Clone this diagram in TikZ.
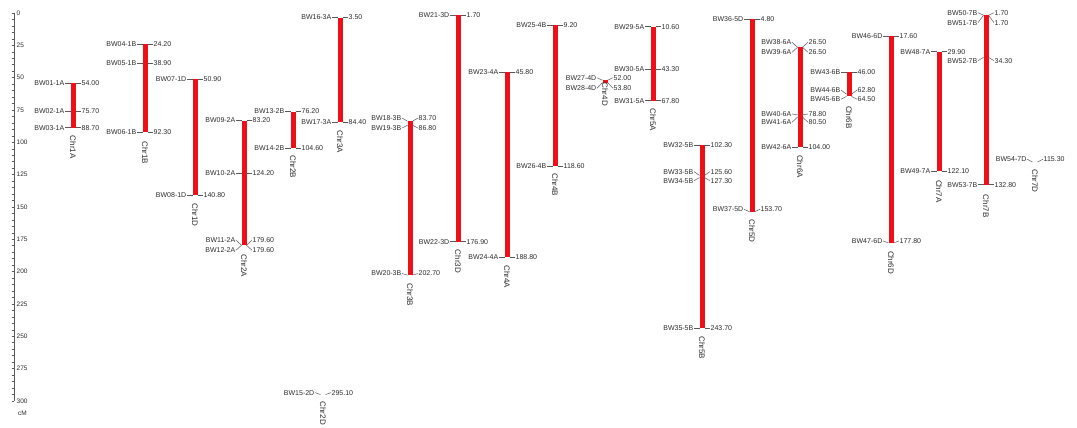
\documentclass[tikz,border=0pt]{standalone}
\usepackage{fontspec}
\setmainfont{Liberation Sans}
\usetikzlibrary{positioning}
\definecolor{chrred}{RGB}{238,16,22}
\definecolor{labelgray}{RGB}{45,45,45}
\definecolor{tickgray}{RGB}{90,90,90}

\begin{document}
\begin{tikzpicture}[
        x=1pt, y=-1.293pt,
        mname/.style={anchor=east, inner sep=0.5pt, font=\fontsize{7}{8}\selectfont, text=labelgray},
        mpos/.style={anchor=west, inner sep=0.5pt, font=\fontsize{7}{8}\selectfont, text=labelgray},
        chrname/.style={rotate=-90, anchor=west, inner sep=0pt, font=\fontsize{8}{9}\selectfont, text=labelgray},
        chrbar/.style={line width=5pt, draw=chrred},
        link/.style={draw=tickgray, line width=0.5pt},
        axislabel/.style={anchor=west, inner sep=0pt, font=\fontsize{6.5}{7}\selectfont, text=labelgray}
    ]
    \useasboundingbox[fill=white] (0,-10.05) rectangle (1077,320.2);

    % scale in cM
    \draw[tickgray, line width=0.8pt] (14,0) -- (14,300);
    \foreach \t in {0,5,...,300}
        \draw[tickgray, line width=0.5pt] (11.5,\t) -- (14,\t);
    \foreach \t in {0,25,...,300}
        \node[axislabel] (ax\t) at (16.5,\t) {\t};
    \node[axislabel] (unit) at (18,309.4) {cM};

    % markers: id/chromosome/x/position/label shift
    \foreach \id/\chr/\cx/\pos/\dy in {
        01/1A/73/54.00/0, 02/1A/73/75.70/0, 03/1A/73/88.70/0,
        04/1B/145/24.20/0, 05/1B/145/38.90/0, 06/1B/145/92.30/0,
        07/1D/195/50.90/0, 08/1D/195/140.80/0,
        09/2A/244/83.20/0, 10/2A/244/124.20/0, 11/2A/244/179.60/-3.9, 12/2A/244/179.60/3.9,
        13/2B/293/76.20/0, 14/2B/293/104.60/0,
        15/2D/323/295.10/-1.5,
        16/3A/340/3.50/0, 17/3A/340/84.40/0,
        18/3B/410/83.70/-2.5, 19/3B/410/86.80/2.2, 20/3B/410/202.70/-1.2,
        21/3D/458/1.70/0, 22/3D/458/176.90/0,
        23/4A/507/45.80/0, 24/4A/507/188.80/0,
        25/4B/555/9.20/0, 26/4B/555/118.60/0,
        27/4D/605/52.00/-1.9, 28/4D/605/53.80/4.4,
        29/5A/653/10.60/0, 30/5A/653/43.30/0, 31/5A/653/67.80/0,
        32/5B/702/102.30/0, 33/5B/702/125.60/-2.9, 34/5B/702/127.30/2.4, 35/5B/702/243.70/0,
        36/5D/752/4.80/0, 37/5D/752/153.70/-1.9,
        38/6A/800/26.50/-3.9, 39/6A/800/26.50/3.9, 40/6A/800/78.80/-0.7, 41/6A/800/80.50/4.0, 42/6A/800/104.00/0,
        43/6B/849/46.00/0, 44/6B/849/62.80/-3.2, 45/6B/849/64.50/2.2,
        46/6D/891/17.60/0, 47/6D/891/177.80/-1.5,
        48/7A/939/29.90/0, 49/7A/939/122.10/0,
        50/7B/986/1.70/-1.9, 51/7B/986/1.70/5.8, 52/7B/986/34.30/2.6, 53/7B/986/132.80/0,
        54/7D/1035/115.30/-2.3}{
        \coordinate (b\id) at (\cx,\pos);
        \coordinate (l\id) at ({\cx-2.5},\pos);
        \coordinate (r\id) at ({\cx+2.5},\pos);
        \node[mname] (n\id) at ({\cx-8},{\pos+(\dy)}) {BW\id-\chr};
        \node[mpos] (v\id) at ({\cx+8},{\pos+(\dy)}) {\pos};
        \draw[link] (n\id.east) -- (l\id);
        \draw[link] (r\id) -- (v\id.west);
    }

    % chromosomes: name/top marker/bottom marker/gap
    \foreach \chr/\top/\bot/\gap in {
        1A/01/03/8, 1B/04/06/9, 1D/07/08/8, 2A/09/12/9, 2B/13/14/7, 2D/15/15/7,
        3A/16/17/8, 3B/18/20/8, 3D/21/22/8, 4A/23/24/8, 4B/25/26/7, 4D/27/28/0,
        5A/29/31/7.5, 5B/32/35/8, 5D/36/37/7.5, 6A/38/42/7.5, 6B/43/45/9.5, 6D/46/47/8,
        7A/48/49/9, 7B/50/53/10, 7D/54/54/7}{
        \draw[chrbar] (b\top) -- (b\bot);
        \node[chrname] (c\chr) at ([yshift=-\gap pt]b\bot) {Chr\chr};
    }
\end{tikzpicture}
\end{document}
